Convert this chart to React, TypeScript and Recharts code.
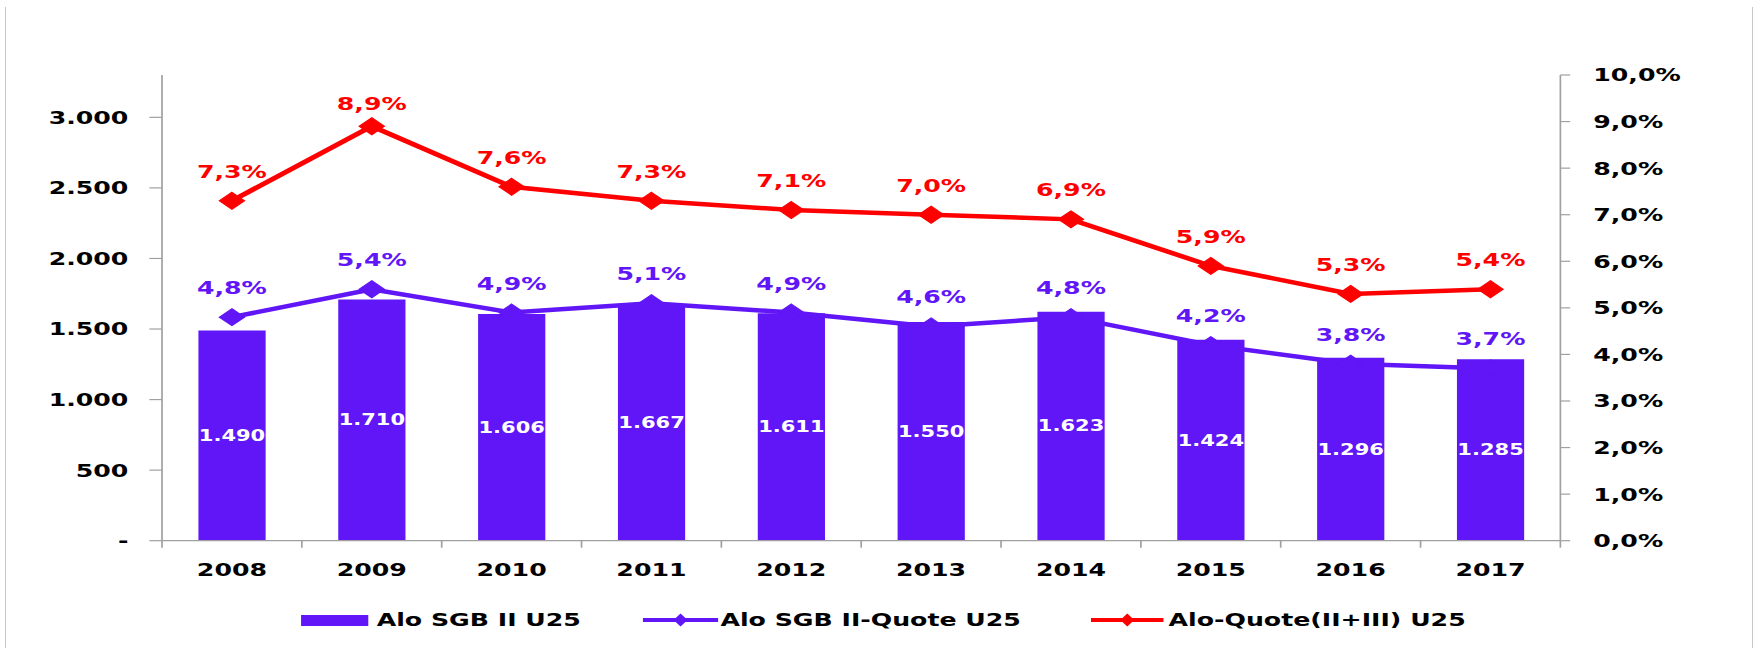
import React from "react";
import { ComposedChart, Bar, Line, XAxis, YAxis, Legend, LabelList } from "recharts";

const years = ["2008", "2009", "2010", "2011", "2012", "2013", "2014", "2015", "2016", "2017"];
const aloSgbII = [1490, 1710, 1606, 1667, 1611, 1550, 1623, 1424, 1296, 1285];
const quoteSgbII = [4.8, 5.4, 4.9, 5.1, 4.9, 4.6, 4.8, 4.2, 3.8, 3.7];
const quoteGesamt = [7.3, 8.9, 7.6, 7.3, 7.1, 7.0, 6.9, 5.9, 5.3, 5.4];

const leftTicks = [0, 500, 1000, 1500, 2000, 2500, 3000];
const rightTicks = [0, 1, 2, 3, 4, 5, 6, 7, 8, 9, 10];

const seriesNames = ["Alo SGB II U25", "Alo SGB II-Quote U25", "Alo-Quote(II+III) U25"];

const PURPLE = "#6016F6";
const RED = "#FF0000";
const AXIS = "#a0a0a0";
const FONT = "'DejaVu Sans', Verdana, sans-serif";

// the original picture is stretched horizontally, so draw narrower and scale
const W = 1254;
const H = 648;
const SX = 1756 / W;

const data = years.map((year, i) => ({
  year,
  alo: aloSgbII[i],
  quote: quoteSgbII[i],
  quoteAll: quoteGesamt[i],
}));

const fmtThousands = (v: number) =>
  v === 0 ? "-" : String(v).replace(/\B(?=(\d{3})+(?!\d))/g, ".");
const fmtPct = (v: number) => v.toFixed(1).replace(".", ",") + "%";

const diamond = (color: string) => (p: any) => {
  const { cx, cy, index } = p;
  if (cx == null || cy == null) return <g key={index} />;
  return (
    <polygon
      key={index}
      points={`${cx},${cy - 8.5} ${cx + 9},${cy} ${cx},${cy + 8.5} ${cx - 9},${cy}`}
      fill={color}
      stroke={color}
    />
  );
};

// percent label above a point; the peak label sits a bit closer in the original
const pctLabel = (color: string, values: number[]) => (p: any) => {
  const x = p.x ?? p.viewBox?.x;
  const y = p.y ?? p.viewBox?.y;
  if (x == null || y == null) return null;
  const off = p.value === Math.max(...values) && values === quoteGesamt ? 16 : 23;
  return (
    <text key={p.index} x={x} y={y - off} textAnchor="middle" fill={color} fontSize={18} fontWeight="bold">
      {fmtPct(p.value)}
    </text>
  );
};

const YearTick = (props: any) => {
  const { x, y, payload, index, visibleTicksCount, width } = props;
  const n = visibleTicksCount || years.length;
  const band = (width || 998.6) / n;
  return (
    <g>
      <line x1={x - band / 2} x2={x - band / 2} y1={y} y2={y + 7} stroke={AXIS} strokeWidth={1.2} />
      {index === n - 1 && (
        <line x1={x + band / 2} x2={x + band / 2} y1={y} y2={y + 7} stroke={AXIS} strokeWidth={1.2} />
      )}
      <text x={x} y={y + 35} textAnchor="middle" fill="#000" fontSize={18} fontWeight="bold">
        {payload.value}
      </text>
    </g>
  );
};

const LegendContent = () => {
  const textStyle: React.CSSProperties = {
    position: "absolute",
    top: 0,
    lineHeight: "30px",
    fontSize: 18,
    fontWeight: "bold",
    color: "#000",
    whiteSpace: "nowrap",
  };
  const lineIcon = (color: string, left: number, w: number) => (
    <svg style={{ position: "absolute", left, top: 8 }} width={w} height={14}>
      <line x1={0} x2={w} y1={7} y2={7} stroke={color} strokeWidth={4} />
      <polygon points={`${w / 2},0.5 ${w / 2 + 5},7 ${w / 2},13.5 ${w / 2 - 5},7`} fill={color} />
    </svg>
  );
  return (
    <div style={{ position: "relative", width: W, height: 30 }}>
      <div style={{ position: "absolute", left: 215, top: 9.5, width: 48, height: 11, background: PURPLE }} />
      <span style={{ ...textStyle, left: 269 }}>{seriesNames[0]}</span>
      {lineIcon(PURPLE, 459, 54)}
      <span style={{ ...textStyle, left: 514.5 }}>{seriesNames[1]}</span>
      {lineIcon(RED, 778.5, 52)}
      <span style={{ ...textStyle, left: 834.5 }}>{seriesNames[2]}</span>
    </div>
  );
};

export default function App() {
  return (
    <div
      style={{
        position: "absolute",
        left: 0,
        top: 0,
        width: 1756,
        height: H,
        background: "#fff",
        overflow: "hidden",
        fontFamily: FONT,
      }}
    >
      <div
        style={{
          position: "absolute",
          left: 5,
          top: 7,
          width: 1746,
          height: 700,
          borderLeft: "1.5px solid #c8c8c8",
          borderRight: "1.5px solid #c8c8c8",
        }}
      />
      <div
        style={{
          position: "absolute",
          left: 0,
          top: 0,
          width: W,
          height: H,
          transform: `scaleX(${SX})`,
          transformOrigin: "0 0",
        }}
      >
        <ComposedChart
          width={W}
          height={H}
          data={data}
          margin={{ top: 75, right: 39.7, bottom: 13, left: 15.7 }}
        >
          <XAxis
            dataKey="year"
            xAxisId={0}
            height={64.3}
            axisLine={{ stroke: AXIS, strokeWidth: 1.2 }}
            tickLine={false}
            tickSize={0}
            tickMargin={0}
            tick={<YearTick />}
            interval={0}
          />
          <YAxis
            yAxisId="left"
            width={100}
            domain={[0, 3300]}
            ticks={leftTicks}
            allowDataOverflow
            tickFormatter={fmtThousands}
            axisLine={{ stroke: AXIS, strokeWidth: 1.2 }}
            tickLine={{ stroke: AXIS, strokeWidth: 1.2 }}
            tickSize={9}
            tickMargin={15}
            tick={{ fill: "#000", fontSize: 18, fontWeight: "bold" }}
          />
          <YAxis
            yAxisId="right"
            orientation="right"
            width={100}
            domain={[0, 10]}
            ticks={rightTicks}
            allowDataOverflow
            tickFormatter={fmtPct}
            axisLine={{ stroke: AXIS, strokeWidth: 1.2 }}
            tickLine={{ stroke: AXIS, strokeWidth: 1.2 }}
            tickSize={7}
            tickMargin={16.5}
            tick={{ fill: "#000", fontSize: 18, fontWeight: "bold" }}
          />
          <Legend verticalAlign="bottom" content={<LegendContent />} wrapperStyle={{ left: 0, width: W, height: 30 }} />
          <Line
            yAxisId="right"
            dataKey="quote"
            name={seriesNames[1]}
            stroke={PURPLE}
            strokeWidth={4.5}
            dot={diamond(PURPLE)}
            activeDot={false}
            isAnimationActive={false}
          >
            <LabelList dataKey="quote" content={pctLabel(PURPLE, quoteSgbII)} />
          </Line>
          <Bar
            yAxisId="left"
            dataKey="alo"
            name={seriesNames[0]}
            fill={PURPLE}
            barSize={48}
            isAnimationActive={false}
          >
            <LabelList
              dataKey="alo"
              position="center"
              formatter={fmtThousands}
              fill="#fff"
              fontSize={15}
              fontWeight="bold"
            />
          </Bar>
          <Line
            yAxisId="right"
            dataKey="quoteAll"
            name={seriesNames[2]}
            stroke={RED}
            strokeWidth={4.5}
            dot={diamond(RED)}
            activeDot={false}
            isAnimationActive={false}
          >
            <LabelList dataKey="quoteAll" content={pctLabel(RED, quoteGesamt)} />
          </Line>
        </ComposedChart>
      </div>
    </div>
  );
}
